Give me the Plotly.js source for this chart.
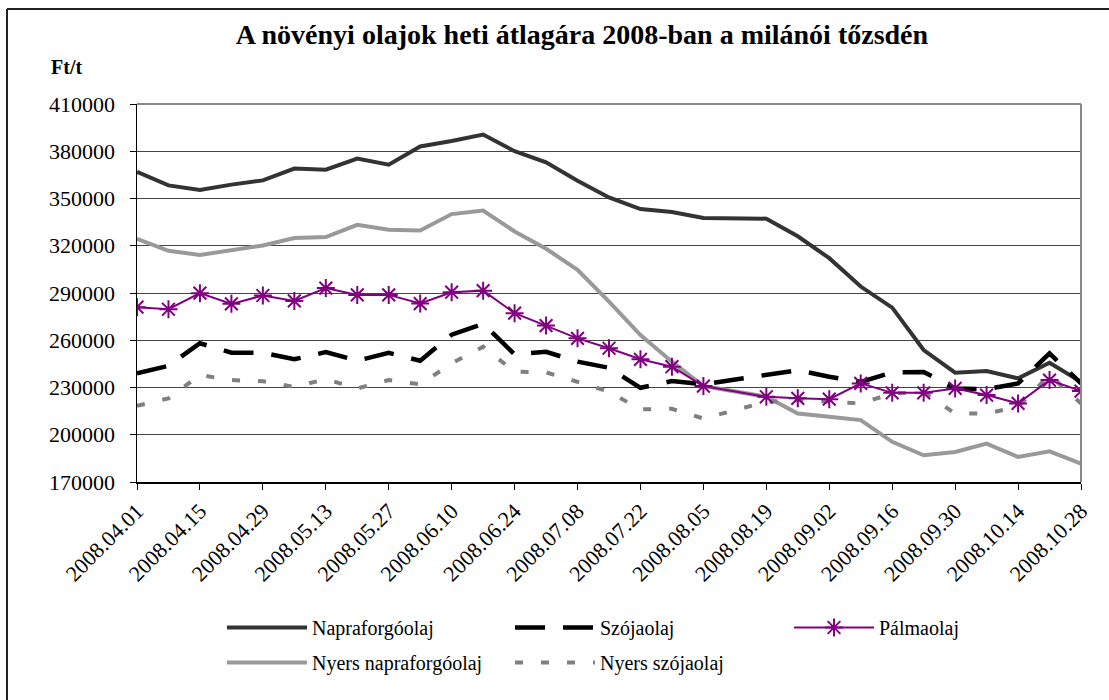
<!DOCTYPE html>
<html>
<head>
<meta charset="utf-8">
<script src="https://cdn.plot.ly/plotly-3.0.1.min.js"></script>
<style>
html,body{margin:0;padding:0;background:#fff;}
#chart{width:1109px;height:700px;}
</style>
</head>
<body>
<div id="chart"></div>
<script>
const dates = ["2008.04.01","2008.04.08","2008.04.15","2008.04.22","2008.04.29","2008.05.06","2008.05.13","2008.05.20","2008.05.27","2008.06.03","2008.06.10","2008.06.17","2008.06.24","2008.07.01","2008.07.08","2008.07.15","2008.07.22","2008.07.29","2008.08.05","2008.08.12","2008.08.19","2008.08.26","2008.09.02","2008.09.09","2008.09.16","2008.09.23","2008.09.30","2008.10.07","2008.10.14","2008.10.21","2008.10.28"];
const tickLabels = ["2008.04.01","2008.04.15","2008.04.29","2008.05.13","2008.05.27","2008.06.10","2008.06.24","2008.07.08","2008.07.22","2008.08.05","2008.08.19","2008.09.02","2008.09.16","2008.09.30","2008.10.14","2008.10.28"];

const napraforgoolaj = [366900,358300,355400,358800,361500,369000,368300,375300,371500,383000,386500,390600,380000,373000,361300,350700,343300,341400,337600,null,337200,326000,312100,294100,280700,253800,239400,240400,235800,245700,233600];
const szojaolaj = [239000,243800,258100,252100,252100,247900,252500,247000,252000,247000,263500,270500,251000,252700,246400,242500,229800,234100,232000,null,238300,241000,236800,233600,239600,239900,229400,229000,232600,251700,232600];
const palmaolaj = [281000,279700,289900,283100,288400,285000,293100,288800,288800,283300,290500,291500,277200,269300,261200,254900,247900,243200,230900,null,224100,223100,222600,232600,226600,226600,229400,225200,219900,234700,227700];
const nyersNapraforgoolaj = [324400,316800,314200,317400,320200,324900,325500,333300,330200,329700,340100,342400,329100,318100,304700,284500,263300,246400,230900,null,224100,213500,211400,209300,195500,187000,189100,194400,185900,189500,181700];
const nyersSzojaolaj = [218400,223100,237900,234700,234000,230400,235300,229400,234700,232000,245300,255900,240000,239600,233600,227300,216100,216500,210300,null,220900,222000,221000,219900,226200,227000,213500,213500,217700,237900,219900];

const serif = "'Liberation Serif', 'DejaVu Serif', serif";

const traces = [
  {name:"Napraforgóolaj", y:napraforgoolaj, x:dates, mode:"lines", connectgaps:true,
   line:{color:"#333333", width:4}, legend:"legend", legendgroup:"a"},
  {name:"Nyers napraforgóolaj", y:nyersNapraforgoolaj, x:dates, mode:"lines", connectgaps:true,
   line:{color:"#999999", width:4}, legend:"legend", legendgroup:"b"},
  {name:"Szójaolaj", y:szojaolaj, x:dates, mode:"lines", connectgaps:true,
   line:{color:"#000000", width:4.5, dash:"30px,18px"}, legend:"legend2", legendgroup:"c"},
  {name:"Nyers szójaolaj", y:nyersSzojaolaj, x:dates, mode:"lines", connectgaps:true,
   line:{color:"#808080", width:4, dash:"8px,18px"}, legend:"legend2", legendgroup:"d"},
  {name:"Pálmaolaj", y:palmaolaj, x:dates, mode:"lines+markers", connectgaps:true,
   line:{color:"#800080", width:2},
   marker:{symbol:"asterisk-open", size:15, color:"#800080", line:{color:"#800080", width:2}},
   legend:"legend3", legendgroup:"e"}
];

const W = 1109, H = 700, L = 137, R = 1081, T = 104, B = 482;
const px = v => (v - L) / (R - L);
const py = v => (B - v) / (B - T);

const legendCommon = {
  font:{family:serif, size:20, color:"#000"},
  bgcolor:"rgba(0,0,0,0)",
  orientation:"v",
  xanchor:"left", yanchor:"top",
  tracegroupgap:6,
  itemwidth:80,
  traceorder:"grouped"
};

const layout = {
  width:W, height:H,
  margin:{l:L, r:W-R, t:T, b:H-B, pad:0},
  paper_bgcolor:"#fff", plot_bgcolor:"#fff",
  font:{family:serif, size:20, color:"#000"},
  title:{text:"<b>A növényi olajok heti átlagára 2008-ban a milánói tőzsdén</b>",
         font:{family:serif, size:28, color:"#000"},
         xref:"container", yref:"container", x:582/W, xanchor:"center", y:1-34/H, yanchor:"middle"},
  xaxis:{type:"category", range:[0, dates.length-1], showgrid:false,
         tickmode:"array", tickvals:tickLabels, ticktext:tickLabels,
         tickangle:-45, ticks:"outside", ticklen:6, tickcolor:"#000", tickwidth:1,
         showline:true, linecolor:"#000", linewidth:1.5,
         tickfont:{family:serif, size:22, color:"#000"}, zeroline:false},
  yaxis:{range:[170000,410000], dtick:30000, tick0:170000, tickformat:"d",
         ticks:"outside", ticklen:6, tickcolor:"#000", ticklabelstandoff:10,
         showline:true, linecolor:"#000", linewidth:1.5,
         showgrid:true, gridcolor:"#444", gridwidth:1,
         tickfont:{family:serif, size:22, color:"#000"}, zeroline:false},
  showlegend:true,
  legend:Object.assign({}, legendCommon, {x:px(222), y:py(608)}),
  legend2:Object.assign({}, legendCommon, {x:px(510), y:py(608)}),
  legend3:Object.assign({}, legendCommon, {x:px(789), y:py(608)}),
  annotations:[
    {text:"<b>Ft/t</b>", xref:"paper", yref:"paper", x:px(49), y:py(67),
     xanchor:"left", yanchor:"middle", showarrow:false,
     font:{family:serif, size:20, color:"#000"}}
  ],
  shapes:[
    {type:"line", xref:"paper", yref:"paper", x0:1, x1:1, y0:0, y1:1, line:{color:"#888", width:2}},
    {type:"line", xref:"paper", yref:"paper", x0:0, x1:1, y0:1, y1:1, line:{color:"#888", width:2}},
    {type:"line", xref:"paper", yref:"paper", x0:px(7), x1:px(1109), y0:py(9), y1:py(9), line:{color:"#222", width:2}},
    {type:"line", xref:"paper", yref:"paper", x0:px(7), x1:px(7), y0:py(9), y1:py(700), line:{color:"#222", width:2}}
  ]
};

Plotly.newPlot("chart", traces, layout, {displayModeBar:false, staticPlot:true});
</script>
</body>
</html>
